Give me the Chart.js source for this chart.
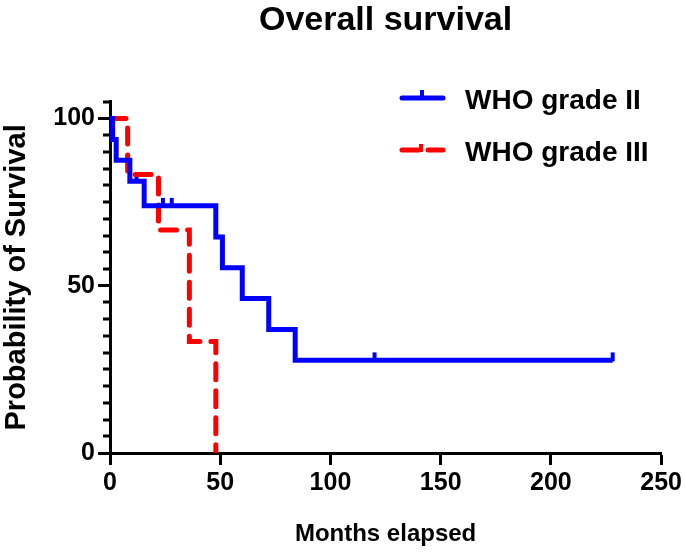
<!DOCTYPE html>
<html><head><meta charset="utf-8">
<script src="https://cdn.jsdelivr.net/npm/chart.js@4.4.0/dist/chart.umd.min.js"></script>
<style>html,body{margin:0;padding:0;background:#fff;}#wrap{width:685px;height:553px;position:relative;}</style>
</head><body><div id="wrap"><canvas id="c"></canvas></div>
<script>
// ---- chart data ----
const titleText = 'Overall survival';
const xAxisTitle = 'Months elapsed';
const yAxisTitle = 'Probability of Survival';
const seriesNames = ['WHO grade II', 'WHO grade III'];
const xTickValues = [0, 50, 100, 150, 200, 250];
const yTickValues = [0, 50, 100];

// Kaplan-Meier steps: time of each step (months) and survival after it (%)
const monthsII = [0, 1.2, 2.8, 9, 15.5, 48, 51, 60, 72, 84, 228];
const survII   = [100, 93.75, 87.5, 81.25, 73.9, 64.6, 55.4, 46.2, 36.9, 27.7, 27.7];
const censorMonthsII = [12, 24, 28, 120, 228];
const censorSurvII   = [81.25, 73.9, 73.9, 27.7, 27.7];

const monthsIII = [0, 8, 22, 36, 48];
const survIII   = [100, 83.3, 66.7, 33.3, 0];

// ---- styling ----
const FONT = '"Liberation Sans", Arial, sans-serif';
const BLUE = '#0000ff';
const RED = '#ff0000';

function tickMark(color) {
  const cv = document.createElement('canvas');
  cv.width = 6; cv.height = 18;
  const c = cv.getContext('2d');
  c.fillStyle = color;
  c.fillRect(1, 1, 4, 9);
  return cv;
}
const blueTick = tickMark(BLUE);

const minorTicks = {
  id: 'minorTicks',
  afterDraw(chart) {
    const y = chart.scales.y, ctx = chart.ctx, left = chart.chartArea.left;
    ctx.save();
    ctx.strokeStyle = '#000'; ctx.lineWidth = 3;
    for (let v = 5; v <= y.max; v += 5) {
      if (v % 50 === 0) continue;
      const p = Math.round(y.getPixelForValue(v));
      ctx.beginPath(); ctx.moveTo(left - 7, p); ctx.lineTo(left, p); ctx.stroke();
    }
    ctx.restore();
  }
};

const customLegend = {
  id: 'customLegend',
  afterDraw(chart) {
    const ctx = chart.ctx;
    const x0 = 402, x1 = 443, tx = 465;
    const rows = [98, 150];
    ctx.save();
    // blue
    ctx.lineCap = 'round';
    ctx.strokeStyle = BLUE; ctx.lineWidth = 5;
    ctx.beginPath(); ctx.moveTo(x0, rows[0]); ctx.lineTo(x1, rows[0]); ctx.stroke();
    ctx.lineCap = 'butt'; ctx.lineWidth = 4;
    ctx.beginPath(); ctx.moveTo(422, rows[0]); ctx.lineTo(422, rows[0] - 8); ctx.stroke();
    // red
    ctx.strokeStyle = RED; ctx.lineWidth = 5; ctx.lineCap = 'round';
    ctx.beginPath(); ctx.moveTo(x0, rows[1]); ctx.lineTo(419, rows[1]); ctx.stroke();
    ctx.beginPath(); ctx.moveTo(428, rows[1]); ctx.lineTo(x1, rows[1]); ctx.stroke();
    ctx.lineCap = 'butt'; ctx.lineWidth = 4;
    ctx.beginPath(); ctx.moveTo(421, rows[1] + 2); ctx.lineTo(421, rows[1] - 6); ctx.stroke();
    // text
    ctx.fillStyle = '#000';
    ctx.font = 'bold 28px ' + FONT;
    ctx.textBaseline = 'middle';
    ctx.textAlign = 'left';
    chart.data.datasets.slice(0, 2).forEach((ds, i) => ctx.fillText(ds.label, tx, rows[i] + 3));
    ctx.restore();
  }
};

new Chart(document.getElementById('c'), {
  type: 'line',
  data: {
    datasets: [
      {
        label: seriesNames[0],
        data: monthsII.map((m, i) => ({x: m, y: survII[i]})),
        borderColor: BLUE, borderWidth: 5, stepped: true,
        pointRadius: 0, fill: false, borderJoinStyle: 'miter'
      },
      {
        label: seriesNames[1],
        data: monthsIII.map((m, i) => ({x: m, y: survIII[i]})),
        borderColor: RED, borderWidth: 5, stepped: true,
        borderDash: [16, 11], borderCapStyle: 'round',
        pointRadius: 0, fill: false
      },
      {
        label: seriesNames[0] + ' censored',
        data: censorMonthsII.map((m, i) => ({x: m, y: censorSurvII[i]})),
        showLine: false, pointStyle: blueTick, pointRadius: 4,
        borderColor: BLUE, backgroundColor: BLUE
      }
    ]
  },
  options: {
    responsive: true, maintainAspectRatio: false, animation: false,
    layout: {padding: {left: 0, right: 23, top: 0, bottom: 0}},
    plugins: {
      legend: {display: false},
      tooltip: {enabled: false},
      title: {
        display: true, text: titleText, fullSize: false,
        color: '#000', font: {family: FONT, size: 34, weight: 'bold'},
        padding: {top: 0, bottom: 61}
      }
    },
    scales: {
      x: {
        type: 'linear', min: 0, max: 250,
        afterBuildTicks: s => { s.ticks = xTickValues.map(v => ({value: v})); },
        afterFit: s => { s.height = 100; },
        ticks: {color: '#000', font: {family: FONT, size: 25, weight: 'bold'}, padding: 3, maxRotation: 0},
        grid: {drawOnChartArea: false, tickLength: 12, tickWidth: 3, tickColor: '#000'},
        border: {color: '#000', width: 3},
        title: {display: true, text: xAxisTitle, color: '#000',
          font: {family: FONT, size: 24, weight: 'bold'}, padding: {top: 0, bottom: 4}}
      },
      y: {
        type: 'linear', min: 0, max: 105,
        afterBuildTicks: s => { s.ticks = yTickValues.map(v => ({value: v})); },
        afterFit: s => { s.width = 110; },
        ticks: {color: '#000', font: {family: FONT, size: 25, weight: 'bold'}, padding: 3},
        grid: {drawOnChartArea: false, tickLength: 12, tickWidth: 3, tickColor: '#000'},
        border: {color: '#000', width: 3},
        title: {display: true, text: yAxisTitle, color: '#000',
          font: {family: FONT, size: 29, weight: 'bold'}, padding: {top: 0, bottom: 0}}
      }
    }
  },
  plugins: [minorTicks, customLegend]
});
</script>
</body></html>
